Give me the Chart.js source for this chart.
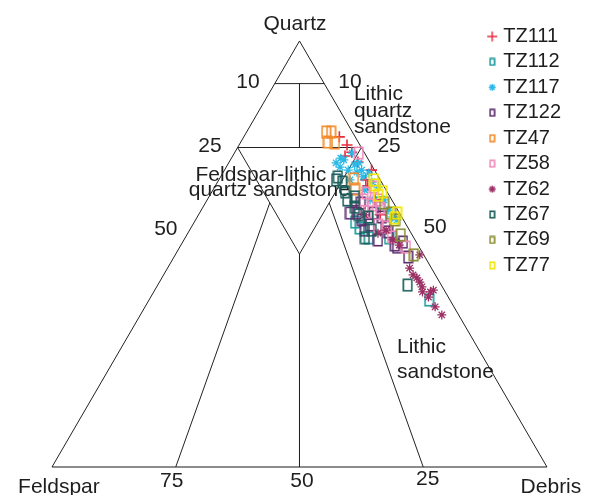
<!DOCTYPE html>
<html>
<head>
<meta charset="utf-8">
<script src="https://cdn.jsdelivr.net/npm/chart.js@4.4.0/dist/chart.umd.min.js"></script>
<style>
html, body { margin: 0; padding: 0; background: #fff; }
</style>
</head>
<body>
<canvas id="chart" width="592" height="495"></canvas>
<script>
// sample names and colours
var seriesNames = ['TZ111', 'TZ112', 'TZ117', 'TZ122', 'TZ47', 'TZ58', 'TZ62', 'TZ67', 'TZ69', 'TZ77'];
var seriesColors = ['#e8283c', '#1b9a9e', '#2ab8e6', '#5a2d6c', '#f18b2a', '#f08ab8', '#9b2f64', '#1b5e5b', '#888a2c', '#f2e600'];
var seriesMarks = ['cross', 'box', 'star', 'box', 'box', 'box', 'star', 'box', 'box', 'box'];

// compositions in %, [quartz, feldspar, debris]
var TZ111 = [[77.5,3.2,19.3],[75.6,2.6,21.8],[73.0,4.3,22.7],[73.9,2.5,23.6],[71.6,2.4,26.0],
  [67.4,2.9,29.7],[66.0,3.2,30.8],[62.7,3.4,33.9],[59.2,4.1,36.7],[69.7,0.6,29.7]];
var TZ112 = [[57.5,10.0,32.5],[53.8,9.1,37.1],[53.8,5.0,41.2],[39.2,4.2,56.6],[62.0,2.7,35.3],[56.1,9.8,34.1]];
var TZ117 = [[71.4,6.9,21.7],[70.4,6.6,23.0],[73.7,2.5,23.8],[71.4,2.3,26.3],[68.1,3.1,28.8],
  [65.7,1.3,33.0],[62.7,1.6,35.7],[58.7,1.8,39.5],[58.0,1.3,40.7],[69.7,5.3,25.0],
  [69.2,3.8,27.0],[69.0,1.5,29.5],[66.9,1.9,31.2],[60.3,1.8,37.9],[72.1,5.0,22.9],
  [70.9,3.4,25.7],[65.0,4.3,30.7],[62.7,4.4,32.9],[72.5,5.4,22.1],[69.7,2.6,27.7],[67.4,6.1,26.5]];
var TZ122 = [[59.6,10.0,30.4],[59.6,8.6,31.8],[55.6,9.0,35.4],[53.3,7.5,39.2],[52.1,4.7,43.2],
  [51.6,4.5,43.9],[49.3,3.4,47.3],[62.0,6.6,31.4],[59.6,5.2,35.2],[58.7,4.0,37.3],
  [62.7,7.4,29.9],[56.3,4.4,39.3],[56.8,7.4,35.8],[58.0,8.4,33.6],[55.2,4.5,40.3],[52.8,2.7,44.5]];
var TZ47 = [[78.6,5.3,16.1],[78.6,4.3,17.1],[76.3,6.1,17.6],[76.1,4.8,19.1],[67.6,5.2,27.2],[65.3,6.1,28.6]];
var TZ58 = [[73.7,1.2,25.1],[64.3,4.3,31.4],[61.5,4.6,33.9],[56.8,5.7,37.5],[51.6,2.7,45.7],
  [56.3,4.2,39.5],[62.7,5.8,31.5],[62.7,2.8,34.5],[65.7,2.1,32.2],[59.9,6.2,33.9],
  [54.0,4.3,41.7],[60.8,3.3,35.9]];
var TZ62 = [[46.7,4.4,48.9],[45.1,4.5,50.4],[44.4,4.1,51.5],[43.4,4.0,52.6],[42.3,4.1,53.6],
  [41.1,4.6,54.3],[41.1,3.0,55.9],[41.5,2.2,56.3],[39.9,4.0,56.1],[37.6,3.8,58.6],
  [35.7,3.4,60.9],[49.8,0.8,49.4],[54.9,6.7,38.4],[55.6,4.7,39.7],[53.3,4.5,42.2],
  [52.1,3.8,44.1],[59.2,7.2,33.6]];
var TZ67 = [[68.1,8.2,23.7],[67.4,8.9,23.7],[66.9,7.9,25.2],[64.6,8.5,26.9],[63.4,7.1,29.5],
  [59.2,8.4,32.4],[53.8,9.9,36.3],[42.7,6.8,50.5],[58.7,6.7,34.6],[61.0,8.3,30.7],
  [62.7,9.0,28.3],[55.6,7.6,36.8]];
var TZ69 = [[62.0,1.9,36.1],[54.5,2.3,43.2],[49.8,2.0,48.2],[58.0,1.7,40.3],[59.6,1.7,38.7]];
var TZ77 = [[67.4,1.3,31.3],[64.6,1.0,34.4],[59.6,0.5,39.9],[58.5,1.5,40.0],[66.2,1.5,32.3],[63.8,2.2,34.0]];
var seriesData = [TZ111, TZ112, TZ117, TZ122, TZ47, TZ58, TZ62, TZ67, TZ69, TZ77];

// classification boundaries, end points as [quartz, feldspar, debris]
var fieldLines = [
  [[100,0,0],[0,100,0]],
  [[100,0,0],[0,0,100]],
  [[90,10,0],[90,0,10]],
  [[90,5,5],[75,12.5,12.5]],
  [[75,25,0],[75,0,25]],
  [[75,25,0],[50,25,25],[75,0,25]],
  [[50,25,25],[0,50,50]],
  [[0,75,25],[62,25,13]],
  [[0,25,75],[62,13,25]]
];
var baseLine = [[0,100,0],[0,0,100]];

// text: [text, x, y, align] in chart units
var textLabels = [
  ['Quartz', 49.1, 102.6, 'center'],
  ['10', 39.6, 89.0, 'center'],
  ['10', 60.2, 89.0, 'center'],
  ['25', 31.9, 73.9, 'center'],
  ['25', 68.1, 73.9, 'center'],
  ['50', 23.0, 54.5, 'center'],
  ['50', 77.4, 54.9, 'center'],
  ['75', 24.2, -4.7, 'center'],
  ['50', 50.5, -4.7, 'center'],
  ['25', 75.9, -4.2, 'center'],
  ['Feldspar', 1.4, -6.1, 'center'],
  ['Debris', 100.8, -6.1, 'center'],
  ['Lithic', 61.0, 86.2, 'left'],
  ['quartz', 61.0, 82.2, 'left'],
  ['sandstone', 61.0, 78.4, 'left'],
  ['Feldspar-lithic', 42.2, 67.1, 'center'],
  ['quartz sandstone', 43.9, 63.6, 'center'],
  ['Lithic', 69.7, 26.8, 'left'],
  ['sandstone', 69.7, 20.9, 'left']
];

function toXY(p) {
  return {x: p[2] + p[0] / 2, y: p[0]};
}

function boxMark(color, w, h) {
  var c = document.createElement('canvas');
  c.width = w + 2;
  c.height = h + 2;
  var g = c.getContext('2d');
  g.strokeStyle = color;
  g.lineWidth = 1.6;
  g.strokeRect(1.3, 1.3, w - 0.6, h - 0.6);
  return c;
}

function strokeMark(color, size, star) {
  var c = document.createElement('canvas');
  c.width = size + 2;
  c.height = size + 2;
  var g = c.getContext('2d');
  var m = (size + 2) / 2, r = size / 2;
  g.strokeStyle = color;
  g.lineWidth = 1.4;
  g.beginPath();
  g.moveTo(m - r, m); g.lineTo(m + r, m);
  g.moveTo(m, m - r); g.lineTo(m, m + r);
  if (star) {
    var d = r * 0.7;
    g.moveTo(m - d, m - d); g.lineTo(m + d, m + d);
    g.moveTo(m - d, m + d); g.lineTo(m + d, m - d);
  }
  g.stroke();
  return c;
}

var datasets = [];
seriesNames.forEach(function(name, i) {
  var mark = seriesMarks[i];
  var ds = {
    label: name,
    data: seriesData[i].map(toXY),
    borderColor: seriesColors[i],
    backgroundColor: 'rgba(0,0,0,0)',
    order: -i,
    clip: false
  };
  if (mark == 'box') {
    ds.pointStyle = boxMark(seriesColors[i], 9, 12);
    ds.pointRadius = 6;
  } else if (mark == 'cross') {
    ds.pointStyle = 'cross';
    ds.pointRadius = 5.5;
    ds.borderWidth = 1.6;
  } else {
    ds.pointStyle = 'star';
    ds.pointRadius = 4.5;
    ds.borderWidth = 1.3;
  }
  datasets.push(ds);
});

fieldLines.forEach(function(line) {
  datasets.push({
    label: 'field',
    data: line.map(toXY),
    showLine: true,
    borderColor: '#222',
    borderWidth: 1,
    pointRadius: 0,
    order: 100,
    clip: false
  });
});
datasets.push({
  label: 'base',
  data: baseLine.map(toXY),
  showLine: true,
  borderColor: '#8c8c8c',
  borderWidth: 2,
  pointRadius: 0,
  order: 100,
  clip: false
});

var textPlugin = {
  id: 'ternaryText',
  beforeDatasetsDraw: function(chart) {
    var ctx = chart.ctx, xs = chart.scales.x, ys = chart.scales.y;
    ctx.save();
    ctx.font = '21px "Liberation Sans", Arial, sans-serif';
    ctx.fillStyle = '#1e1e1e';
    ctx.textBaseline = 'alphabetic';
    textLabels.forEach(function(t) {
      ctx.textAlign = t[3];
      ctx.fillText(t[0], xs.getPixelForValue(t[1]), ys.getPixelForValue(t[2]));
    });
    ctx.restore();
  }
};

new Chart(document.getElementById('chart'), {
  type: 'scatter',
  data: {datasets: datasets},
  plugins: [textPlugin],
  options: {
    responsive: false,
    devicePixelRatio: 1,
    animation: false,
    events: [],
    layout: {autoPadding: false, padding: {top: 21, right: 21, bottom: 0, left: 0}},
    scales: {
      x: {type: 'linear', display: false, bounds: 'data', min: -10.505, max: 87.63},
      y: {type: 'linear', display: false, bounds: 'data', min: -6.573, max: 104.695}
    },
    plugins: {
      tooltip: {enabled: false},
      legend: {
        position: 'right',
        align: 'start',
        labels: {
          usePointStyle: true,
          boxWidth: 2,
          boxHeight: 8,
          padding: 5.44,
          color: '#1e1e1e',
          font: {family: '"Liberation Sans", Arial, sans-serif', size: 20},
          filter: function(item) { return item.datasetIndex < seriesNames.length; },
          sort: function(a, b) { return a.datasetIndex - b.datasetIndex; },
          generateLabels: function(chart) {
            var items = Chart.defaults.plugins.legend.labels.generateLabels(chart);
            items.forEach(function(item) {
              var i = item.datasetIndex;
              if (i >= seriesNames.length) return;
              var mark = seriesMarks[i];
              if (mark == 'box') item.pointStyle = boxMark(seriesColors[i], 5, 7);
              else if (mark == 'cross') item.pointStyle = strokeMark(seriesColors[i], 10, false);
              else item.pointStyle = strokeMark(seriesColors[i], 7, true);
            });
            return items;
          }
        }
      }
    }
  }
});
</script>
</body>
</html>
